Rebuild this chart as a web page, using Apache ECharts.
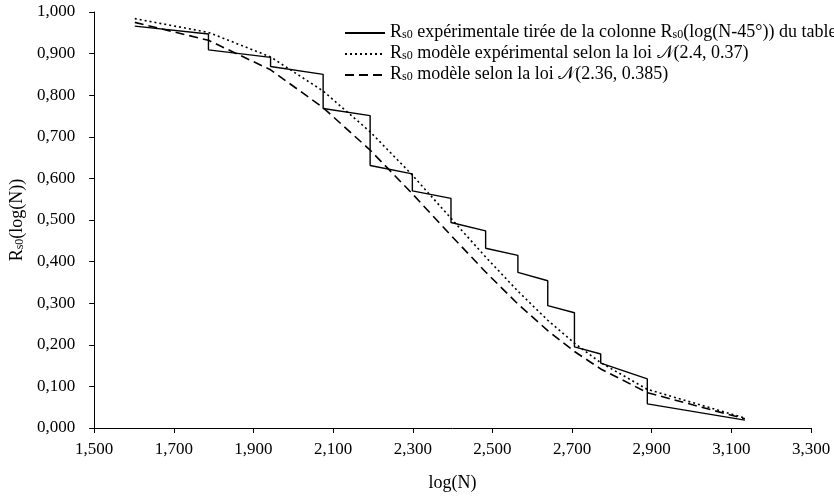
<!DOCTYPE html>
<html>
<head>
<meta charset="utf-8">
<script src="https://cdn.jsdelivr.net/npm/echarts@6/dist/echarts.min.js"></script>
<style>
html,body{margin:0;padding:0;background:#fff;}
#c{width:834px;height:497px;}
</style>
</head>
<body>
<div id="c"></div>
<script>
// Step function (experimental) vertices
const stepX = [1.602, 1.787, 1.787, 1.943, 1.943, 2.075, 2.075, 2.193, 2.193, 2.299, 2.299, 2.396, 2.396, 2.483, 2.483, 2.564, 2.564, 2.639, 2.639, 2.706, 2.706, 2.772, 2.772, 2.889, 2.889, 3.134];
const stepY = [0.966, 0.947, 0.909, 0.891, 0.869, 0.850, 0.768, 0.751, 0.631, 0.611, 0.570, 0.552, 0.494, 0.474, 0.432, 0.415, 0.374, 0.354, 0.294, 0.277, 0.195, 0.178, 0.156, 0.118, 0.058, 0.019];
// Model curves, read at the same abscissae
const modelX = [1.602, 1.787, 1.943, 2.075, 2.193, 2.299, 2.396, 2.483, 2.564, 2.639, 2.706, 2.772, 2.889, 3.134];
const modelExpY = [0.984, 0.951, 0.892, 0.810, 0.712, 0.608, 0.504, 0.411, 0.329, 0.259, 0.204, 0.157, 0.093, 0.024];
const modelY = [0.975, 0.932, 0.861, 0.770, 0.668, 0.563, 0.463, 0.375, 0.298, 0.234, 0.184, 0.142, 0.085, 0.022];
const xTicks = [1.5, 1.7, 1.9, 2.1, 2.3, 2.5, 2.7, 2.9, 3.1, 3.3];
const seriesNames = ['exp', 'modexp', 'mod'];
const legendTexts = [
  '{t|R}{s|s0}{t| expérimentale tirée de la colonne R}{s|s0}{t|(log(N-45°)) du tableau}',
  '{t|R}{s|s0}{t| modèle expérimental selon la loi 𝒩(2.4, 0.37)}',
  '{t|R}{s|s0}{t| modèle selon la loi 𝒩(2.36, 0.385)}'
];
const xName = 'log(N)';
const yNameRich = '{t|R}{s|s0}{t|(log(N))}';

const FONT = '"Liberation Serif", "Times New Roman", serif';
const fmt = v => v.toFixed(3).replace('.', ',');
const zip = (xs, ys) => xs.map((x, i) => [x, ys[i]]);

const chart = echarts.init(document.getElementById('c'), null, {renderer: 'canvas'});
const richLegend = {
  t: {fontFamily: FONT, fontSize: 18, color: '#000', lineHeight: 20, verticalAlign: 'top'},
  s: {fontFamily: FONT, fontSize: 12, color: '#000', lineHeight: 20, verticalAlign: 'top', padding: [6, 0, 0, 0]}
};
const richName = {
  t: {fontFamily: FONT, fontSize: 18, color: '#000', lineHeight: 20, verticalAlign: 'top'},
  s: {fontFamily: FONT, fontSize: 12, color: '#000', lineHeight: 20, verticalAlign: 'top', padding: [6, 0, 0, 0]}
};
chart.setOption({
  animation: false,
  backgroundColor: '#fff',
  grid: {left: 93, right: 23, top: 12, bottom: 69, containLabel: false},
  legend: {
    show: true,
    orient: 'vertical',
    left: 339,
    top: 18,
    itemWidth: 40,
    itemHeight: 14,
    itemGap: 3,
    data: seriesNames,
    itemStyle: {opacity: 0},
    formatter: name => legendTexts[seriesNames.indexOf(name)],
    textStyle: {rich: richLegend, fontFamily: FONT, fontSize: 18, color: '#000'}
  },
  xAxis: {
    type: 'value',
    min: 1.5, max: 3.3,
    name: xName,
    nameLocation: 'middle',
    nameGap: 46,
    nameTextStyle: {fontFamily: FONT, fontSize: 18, color: '#000'},
    axisLine: {lineStyle: {color: '#000', width: 1}},
    axisTick: {show: true, inside: false, length: 5, lineStyle: {color: '#000'}, customValues: xTicks},
    axisLabel: {customValues: xTicks, formatter: fmt, fontFamily: FONT, fontSize: 17, color: '#000', margin: 13},
    splitLine: {show: false}
  },
  yAxis: {
    type: 'value',
    min: 0, max: 1, interval: 0.1,
    name: yNameRich,
    nameLocation: 'middle',
    nameRotate: 90,
    nameGap: 60,
    nameTextStyle: {rich: richName},
    axisLine: {show: true, lineStyle: {color: '#000', width: 1}},
    axisTick: {show: true, inside: false, length: 5, lineStyle: {color: '#000'}},
    axisLabel: {formatter: fmt, fontFamily: FONT, fontSize: 17, color: '#000', margin: 19},
    splitLine: {show: false}
  },
  series: [
    {name: seriesNames[0], type: 'line', data: zip(stepX, stepY), symbol: 'none', lineStyle: {color: '#000', width: 1.4, type: 'solid'}, itemStyle: {color: '#000'}},
    {name: seriesNames[1], type: 'line', data: zip(modelX, modelExpY), symbol: 'none', lineStyle: {color: '#000', width: 1.6, type: [2, 3]}, itemStyle: {color: '#000'}},
    {name: seriesNames[2], type: 'line', data: zip(modelX, modelY), symbol: 'none', lineStyle: {color: '#000', width: 1.6, type: [9, 5]}, itemStyle: {color: '#000'}}
  ]
});
</script>
</body>
</html>
